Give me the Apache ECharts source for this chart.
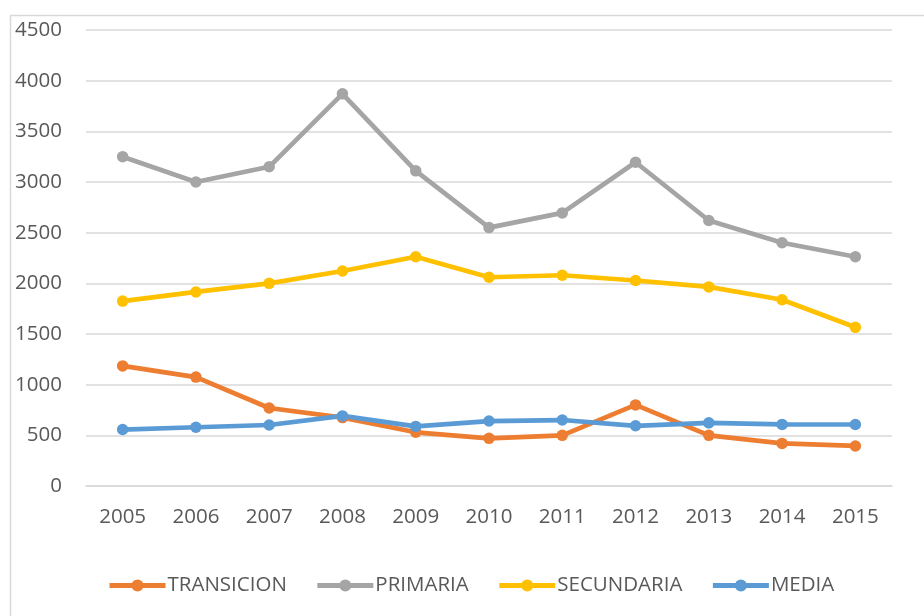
<!DOCTYPE html>
<html>
<head>
<meta charset="utf-8">
<script src="https://cdn.jsdelivr.net/npm/echarts@6/dist/echarts.min.js"></script>
<style>
  html, body { margin: 0; padding: 0; background: #fff; }
  #chart { width: 924px; height: 616px; }
</style>
</head>
<body>
<div id="chart"></div>
<script>
// years on the x axis
const years = ['2005', '2006', '2007', '2008', '2009', '2010', '2011', '2012', '2013', '2014', '2015'];

// values
const transicion = [1185, 1075, 770, 675, 530, 470, 500, 800, 500, 420, 395];
const primaria = [3250, 3000, 3150, 3870, 3110, 2550, 2695, 3195, 2620, 2400, 2262];
const secundaria = [1825, 1915, 2000, 2122, 2262, 2060, 2080, 2028, 1965, 1838, 1566];
const media = [557, 580, 602, 692, 588, 641, 651, 594, 623, 608, 607];

const seriesNames = ['TRANSICION', 'PRIMARIA', 'SECUNDARIA', 'MEDIA'];
const seriesColors = ['#ED7D31', '#A5A5A5', '#FFC000', '#5B9BD5'];
const seriesData = [transicion, primaria, secundaria, media];

const labelFont = '"Open Sans", "Liberation Sans", sans-serif';

const chart = echarts.init(document.getElementById('chart'));

const option = {
  animation: false,
  backgroundColor: '#ffffff',
  textStyle: { fontFamily: labelFont },
  graphic: [
    {
      type: 'rect',
      silent: true,
      shape: { x: 10.5, y: 15.5, width: 1000, height: 1000 },
      style: { fill: 'none', stroke: '#d9d9d9', lineWidth: 1.5 }
    }
  ],
  grid: {
    left: 86,
    right: 32,
    top: 30,
    bottom: 130
  },
  legend: {
    left: 102,
    top: 570,
    itemWidth: 56,
    itemHeight: 15,
    itemGap: 28,
    lineStyle: { width: 5 },
    textStyle: {
      color: '#595959',
      fontSize: 20.5,
      fontFamily: labelFont,
      padding: [0, 0, 0, -3]
    },
    data: seriesNames
  },
  xAxis: {
    type: 'category',
    data: years,
    boundaryGap: true,
    axisLine: { lineStyle: { color: '#d9d9d9', width: 1.5 } },
    axisTick: { show: false },
    axisLabel: {
      color: '#595959',
      fontSize: 20.5,
      margin: 21,
      fontFamily: labelFont
    }
  },
  yAxis: {
    type: 'value',
    min: 0,
    max: 4500,
    interval: 500,
    axisLine: { show: false },
    axisTick: { show: false },
    axisLabel: {
      color: '#595959',
      fontSize: 20.5,
      margin: 24,
      fontFamily: labelFont,
      formatter: (v) => String(v)
    },
    splitLine: { lineStyle: { color: '#d9d9d9', width: 1.5 } }
  },
  series: seriesNames.map((name, i) => ({
    name: name,
    type: 'line',
    data: seriesData[i],
    symbol: 'circle',
    symbolSize: 11.5,
    color: seriesColors[i],
    lineStyle: { width: 4.7, color: seriesColors[i] },
    itemStyle: { color: seriesColors[i] }
  }))
};

chart.setOption(option);
</script>
</body>
</html>
